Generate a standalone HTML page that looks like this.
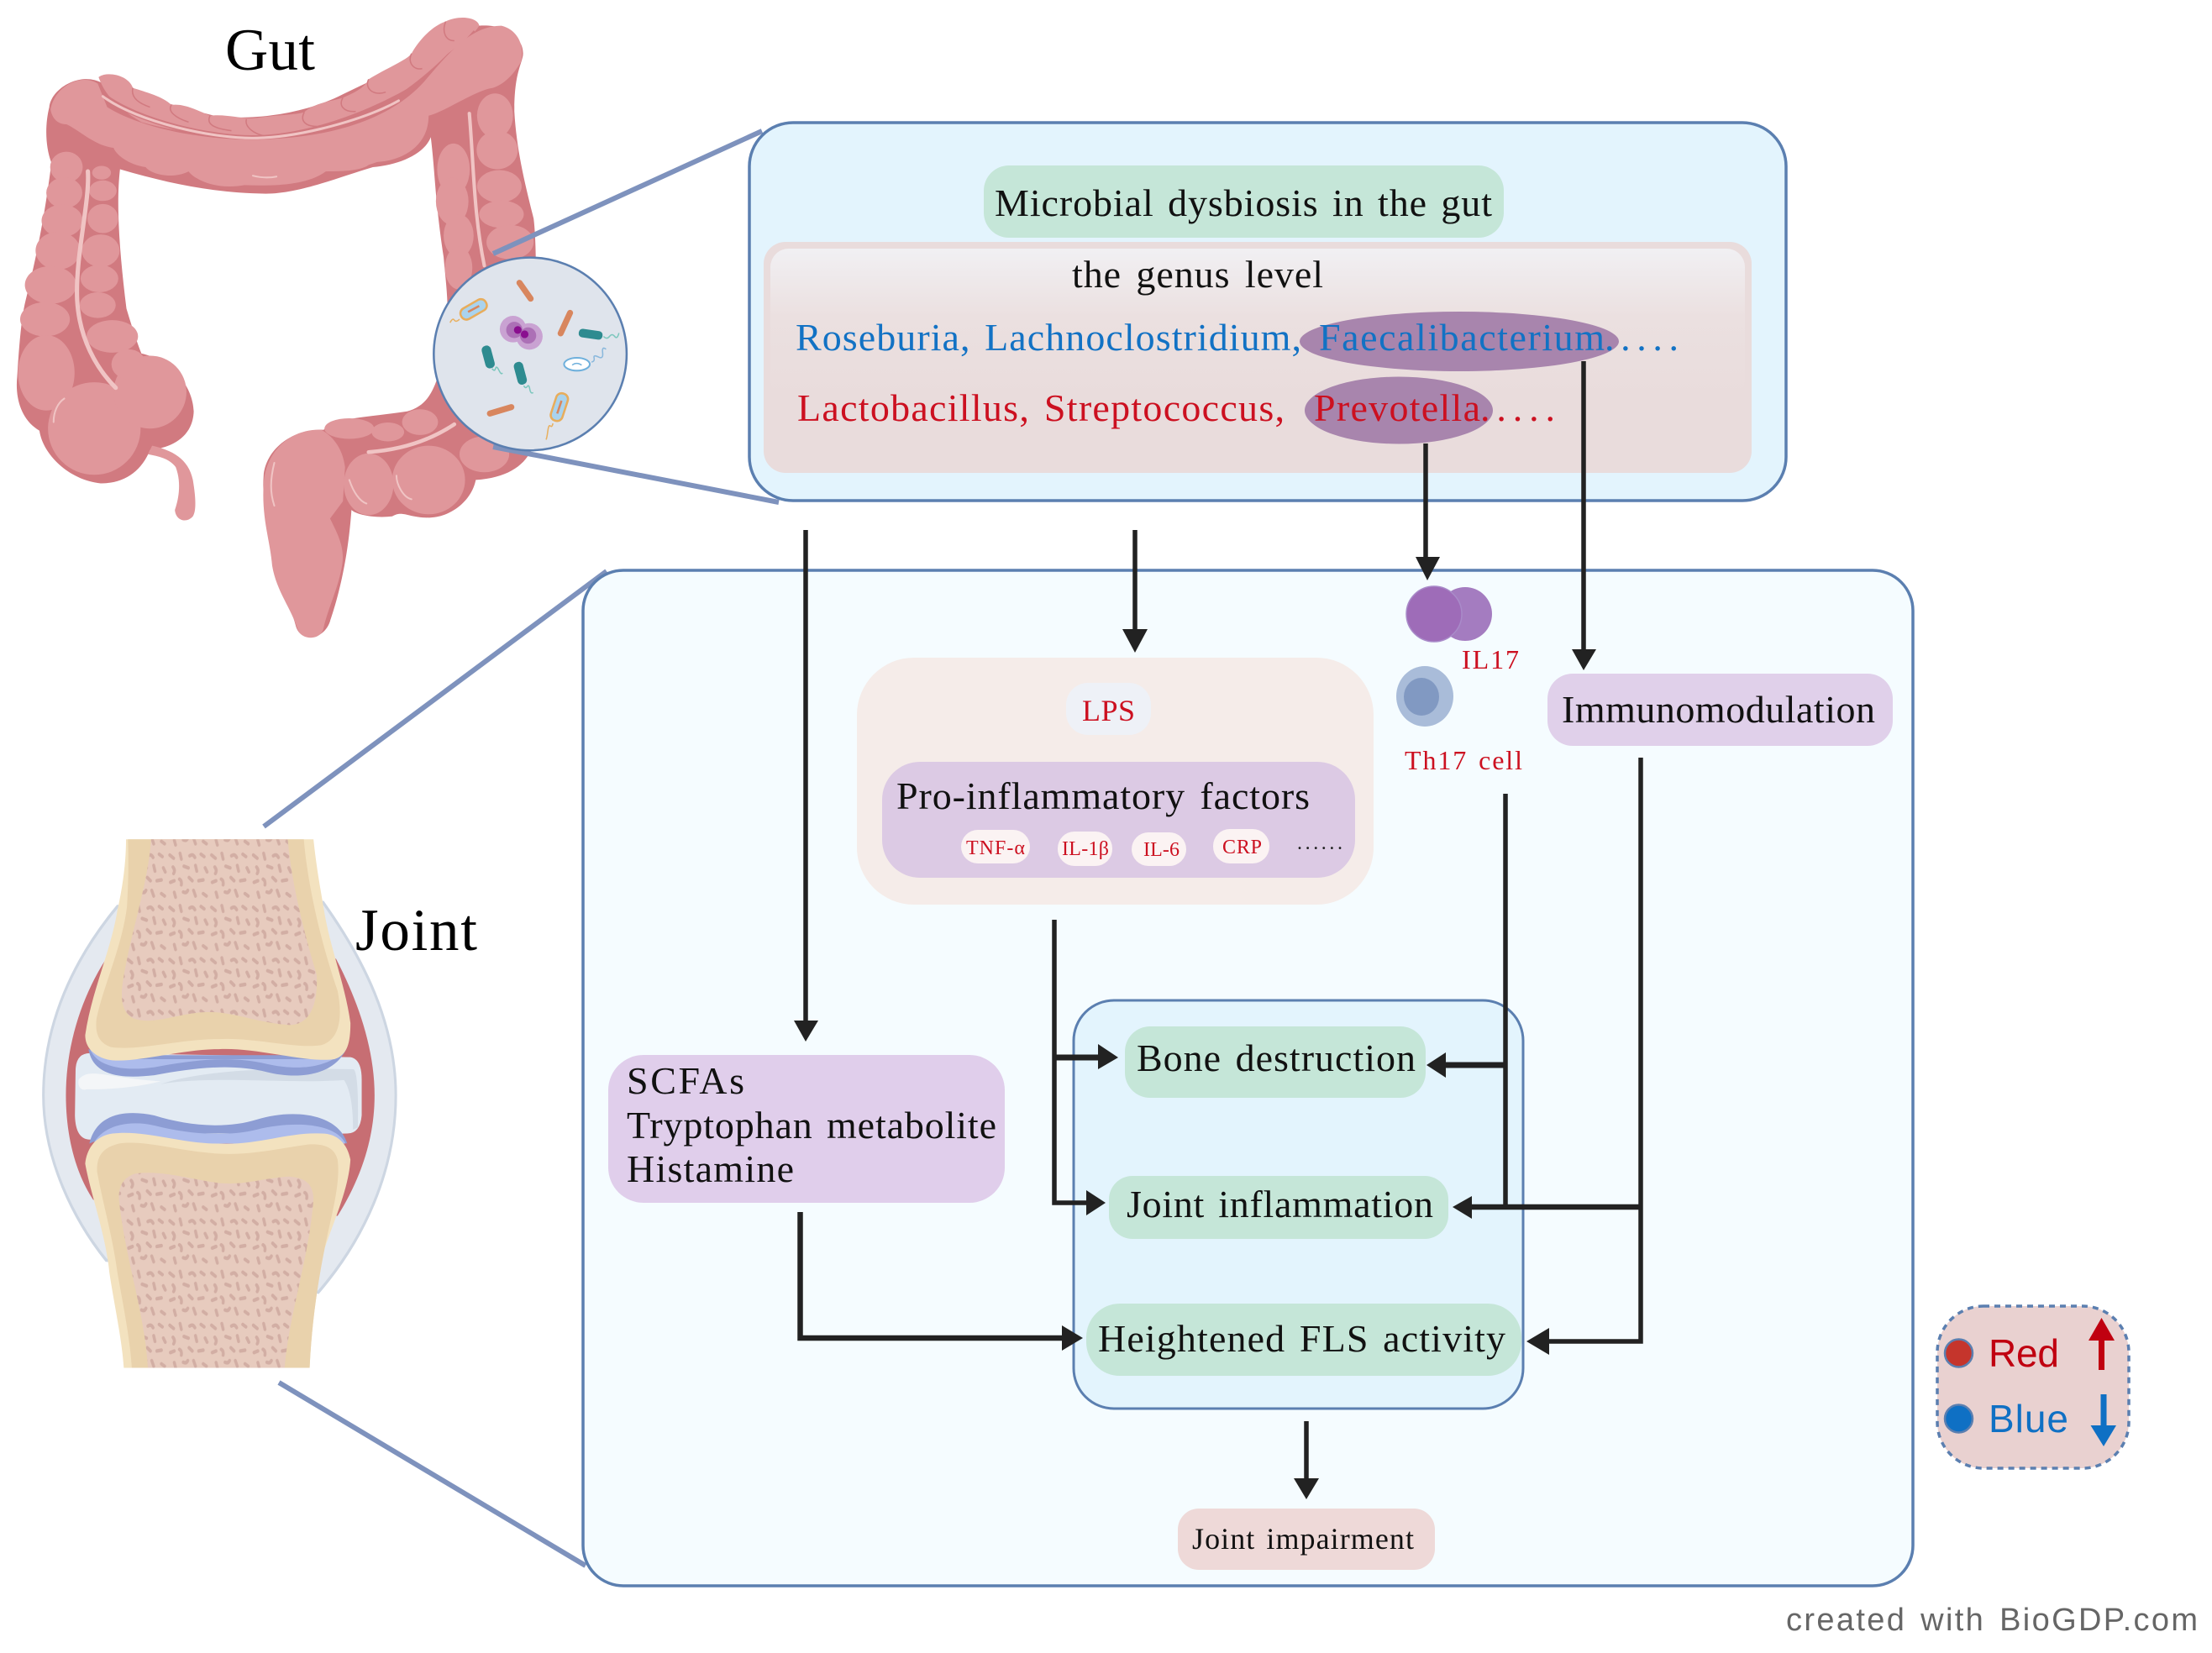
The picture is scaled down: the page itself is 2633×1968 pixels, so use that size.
<!DOCTYPE html>
<html><head><meta charset="utf-8"><style>
html,body{margin:0;padding:0;background:#fff;width:2633px;height:1968px;overflow:hidden}
svg{display:block}
text{font-family:"Liberation Serif",serif}
.b{fill:#111;font-size:46px}
.r{fill:#cc1020}
.sans{font-family:"Liberation Sans",sans-serif}
</style></head><body>
<svg width="2633" height="1968" viewBox="0 0 2633 1968" xmlns="http://www.w3.org/2000/svg">
<defs>
<linearGradient id="gr" x1="0" y1="0" x2="0" y2="1"><stop offset="0" stop-color="#f1f0f3"/><stop offset="0.45" stop-color="#ebe0e0"/><stop offset="1" stop-color="#e9dcdc"/></linearGradient>
<pattern id="sp" patternUnits="userSpaceOnUse" width="130" height="130">
<rect width="130" height="130" fill="#e7cbbe"/>
<g stroke="#d2aea4" stroke-width="9" stroke-linecap="round" fill="none">
<path d="M8 12l12 8M40 8l4 14M70 14q10 -6 16 4M105 10l10 6M18 42q8 8 2 16M52 40l14 4M88 38l4 14M118 44l6 10M10 80l12 -4M38 72q8 4 6 14M68 68l10 8M98 76l14 -2M22 105l4 12M50 104q10 4 14 -4M82 100l6 14M112 108l10 6"/>
</g></pattern>
</defs>
<rect width="2633" height="1968" fill="#fff"/>

<!-- gut -->
<g transform="scale(.5102)">
<path fill="#d17a80" d="M115 250C120 205 190 165 240 195C300 215 400 245 500 270C580 282 700 268 790 225C860 190 950 150 1010 120C1060 75 1110 35 1118 60C1180 55 1225 90 1220 130C1215 155 1200 175 1200 260C1205 350 1225 430 1245 510C1255 590 1250 800 1240 1050C1220 1090 1180 1115 1110 1120C1100 1170 1050 1208 1000 1208C950 1208 940 1190 915 1205C870 1210 830 1200 820 1190C810 1330 780 1420 770 1450C755 1495 700 1500 690 1460C675 1400 635 1350 635 1310C630 1230 610 1180 615 1110C620 1050 680 1000 755 1003C780 975 850 975 950 960C1000 945 1020 910 1040 800C1050 720 1040 660 1035 600C1015 470 1015 400 1005 320C990 360 930 385 870 390C800 410 700 452 620 452C500 450 400 430 280 395C270 480 280 600 295 720C310 770 320 800 330 825C400 840 450 900 452 960C450 1020 400 1045 350 1050C330 1100 290 1128 235 1128C160 1120 100 1060 92 1005C50 980 35 930 40 880C45 800 50 740 60 700C85 600 105 500 120 380C105 340 105 290 115 250Z"/>
<!-- upper transverse strip -->
<path fill="#e0979b" d="M230 180C250 165 300 175 310 205C340 215 380 225 400 245C430 240 470 262 490 270C530 265 570 280 600 275C650 268 690 268 710 262C730 240 780 235 800 228C830 215 850 205 860 185C900 160 950 140 960 125C980 90 1010 60 1040 50C1070 35 1115 40 1118 60C1100 90 1060 110 1040 130C1000 170 950 210 900 240C850 270 800 285 700 310C600 325 450 320 330 285C290 260 250 235 230 180Z"/>
<path fill="none" stroke="#d17a80" stroke-width="3" d="M310 205C305 225 320 240 350 250M400 245C390 260 410 275 440 285M490 270C480 290 500 300 540 305M575 278C570 295 590 312 620 318M710 262C700 280 710 295 740 295M800 228C790 245 800 262 830 260M860 185C850 205 870 225 900 215M960 125C950 145 965 165 985 160M1040 50C1030 75 1040 95 1060 95"/>
<path fill="none" stroke="#d17a80" stroke-width="13" d="M240 222C320 285 500 325 600 322C700 320 850 280 1000 185C1040 150 1080 110 1110 75"/>
<path fill="#e0979b" d="M118 255C128 200 190 170 228 195L250 250C330 300 480 330 620 325C750 320 900 290 990 190C1050 120 1100 60 1170 60C1210 70 1225 110 1215 145C1200 170 1180 195 1150 205C1110 210 1040 260 1000 270C1000 340 940 375 880 378L860 385C840 400 790 400 760 400C720 430 650 435 570 432C500 445 450 415 440 400C400 420 350 405 340 390C300 385 270 360 265 345C220 340 180 300 155 290C130 290 120 270 118 255Z"/>
<g fill="#e0979b">
<ellipse cx="155" cy="390" rx="38" ry="36"/><ellipse cx="150" cy="450" rx="42" ry="36"/><ellipse cx="145" cy="515" rx="48" ry="38"/><ellipse cx="135" cy="585" rx="52" ry="44"/><ellipse cx="118" cy="665" rx="60" ry="44"/><ellipse cx="105" cy="745" rx="58" ry="40"/><ellipse cx="108" cy="870" rx="66" ry="88"/>
<ellipse cx="237" cy="403" rx="22" ry="16"/><ellipse cx="240" cy="445" rx="32" ry="24"/><ellipse cx="240" cy="510" rx="36" ry="34"/><ellipse cx="235" cy="585" rx="44" ry="38"/><ellipse cx="232" cy="650" rx="44" ry="32"/><ellipse cx="228" cy="712" rx="42" ry="30"/><ellipse cx="262" cy="785" rx="60" ry="38"/>
<ellipse cx="220" cy="1000" rx="108" ry="108"/><ellipse cx="350" cy="915" rx="85" ry="85"/><ellipse cx="300" cy="850" rx="40" ry="35"/>
<ellipse cx="1058" cy="395" rx="38" ry="60"/><ellipse cx="1055" cy="470" rx="38" ry="55"/><ellipse cx="1070" cy="550" rx="35" ry="50"/><ellipse cx="1070" cy="625" rx="32" ry="50"/>
<ellipse cx="1155" cy="270" rx="42" ry="52"/><ellipse cx="1160" cy="350" rx="48" ry="45"/><ellipse cx="1165" cy="435" rx="52" ry="38"/><ellipse cx="1170" cy="500" rx="52" ry="32"/><ellipse cx="1190" cy="565" rx="55" ry="40"/>
<ellipse cx="815" cy="1000" rx="58" ry="24"/><ellipse cx="905" cy="1008" rx="38" ry="22"/><ellipse cx="980" cy="985" rx="42" ry="30"/><ellipse cx="860" cy="1130" rx="58" ry="72"/><ellipse cx="1000" cy="1120" rx="85" ry="80"/><ellipse cx="1130" cy="1060" rx="58" ry="42"/>
<path d="M750 1003C680 1000 620 1050 615 1130C610 1210 630 1260 635 1320C645 1380 680 1420 695 1470C705 1495 750 1495 755 1465C765 1420 790 1370 798 1320C805 1280 790 1250 770 1210L800 1170L805 1090C800 1050 780 1020 750 1003Z"/>
<path d="M355 1040C400 1050 440 1070 450 1120C455 1150 460 1190 450 1205C435 1222 410 1215 408 1190C415 1170 425 1130 410 1090C395 1070 370 1065 345 1060Z"/>
</g>
<g fill="none" stroke="#f0c4c4" stroke-linecap="round">
<path stroke-width="10" d="M205 400C210 470 175 600 180 700C185 790 225 860 270 905"/>
<path stroke-width="8" d="M1095 265C1105 380 1105 500 1130 620"/>
<path stroke-width="6" d="M240 225C320 285 500 325 600 322C700 320 850 280 930 235"/>
<path stroke-width="9" d="M860 1055C930 1050 1000 1030 1060 990"/>
<path stroke-width="4" d="M125 985C125 960 135 940 150 930M815 1120C825 1150 840 1170 855 1175M640 1080C630 1120 630 1150 640 1180M925 1110C925 1130 940 1160 960 1165M590 410C610 415 630 415 645 412"/>
</g>
</g>

<!-- connector wedges -->
<g stroke="#7e92bd" stroke-width="6" fill="none">
<path d="M587 302L907 156"/><path d="M587 532L927 598"/>
<path d="M314 984L722 680"/><path d="M332 1646L697 1864"/>
</g>

<!-- magnified circle -->
<g transform="scale(.5102)">
<circle cx="1237" cy="826" r="225" fill="#dfe4ec" stroke="#5b7fb0" stroke-width="5"/>
<g stroke="#d8865e" stroke-width="14" stroke-linecap="round"><path d="M1212 660L1238 697M1330 730L1308 778M1143 965L1193 950"/></g>
<g fill="#c9a2d2"><circle cx="1197" cy="768" r="31"/><circle cx="1235" cy="785" r="31"/></g>
<g fill="#ac70b6"><circle cx="1200" cy="770" r="19"/><circle cx="1232" cy="783" r="19"/></g>
<g fill="#8a0f8f"><circle cx="1208" cy="770" r="9"/><circle cx="1224" cy="780" r="9"/></g>
<g fill="#2e8b90"><rect x="1350" y="770" width="56" height="20" rx="9" transform="rotate(8 1378 780)"/><rect x="1112" y="822" width="54" height="22" rx="10" transform="rotate(75 1139 833)"/><rect x="1187" y="860" width="54" height="22" rx="10" transform="rotate(75 1214 871)"/></g>
<g fill="none" stroke="#7cc7bd" stroke-width="3"><path d="M1408 785q8 8 14 0t12 0t10 -8M1148 860q6 8 8 0t8 4t8 6M1222 900q4 8 8 2t6 6t8 8"/><path stroke="#e8b060" d="M1072 745q-8 8 -12 2t-10 6M1290 988q-2 10 -6 6t-6 12t-4 20"/><path stroke="#8ab8dc" d="M1380 845q8 -2 6 -10t10 -2t10 -10t8 -8"/></g>
<g fill="#a9d3ee" stroke="#e8ad5c" stroke-width="5"><rect x="1072" y="708" width="66" height="28" rx="13" transform="rotate(-30 1105 722)"/><rect x="1272" y="936" width="66" height="28" rx="13" transform="rotate(-72 1305 950)"/></g>
<path stroke="#d8865e" stroke-width="5" d="M1092 728L1118 714M1300 965L1310 935"/>
<ellipse cx="1346" cy="850" rx="30" ry="15" fill="#fff" stroke="#6fb0dc" stroke-width="4"/>
<path d="M1335 852q10 -8 22 0" fill="none" stroke="#6fb0dc" stroke-width="3"/>
</g>

<!-- top panel -->
<rect x="892" y="146" width="1234" height="450" rx="52" fill="#e3f4fd" stroke="#5b7fb0" stroke-width="3.5"/>
<rect x="1171" y="197" width="619" height="86" rx="30" fill="#c5e6d8"/>
<text class="b" x="1184" y="257" textLength="592" word-spacing="4">Microbial dysbiosis in the gut</text>
<rect x="909" y="288" width="1176" height="275" rx="26" fill="#e9dcdc"/>
<rect x="917" y="296" width="1160" height="180" rx="22" fill="url(#gr)"/>
<text class="b" x="1276" y="342" textLength="299" word-spacing="5">the genus level</text>
<ellipse cx="1737" cy="406.5" rx="190" ry="35.5" fill="#a885ad"/>
<ellipse cx="1665" cy="488.5" rx="112" ry="40" fill="#a885ad"/>
<text x="947" y="417" font-size="46" fill="#1272c4" textLength="602" word-spacing="4">Roseburia, Lachnoclostridium,</text>
<text x="1570" y="417" font-size="46" fill="#1272c4" textLength="340">Faecalibacterium</text>
<text x="1910" y="417" font-size="46" fill="#1272c4" textLength="88">.....</text>
<text class="r" x="949" y="501" font-size="46" textLength="580" word-spacing="4">Lactobacillus, Streptococcus,</text>
<text class="r" x="1564" y="501" font-size="46" textLength="198">Prevotella</text>
<text class="r" x="1762" y="501" font-size="46" textLength="89">.....</text>

<!-- big panel -->
<rect x="694" y="679" width="1583" height="1209" rx="48" fill="#f5fcff" stroke="#5b7fb0" stroke-width="3.5"/>

<!-- inner outcome box -->
<rect x="1278" y="1191" width="535" height="486" rx="48" fill="#e3f4fd" stroke="#5b7fb0" stroke-width="3"/>
<rect x="1339" y="1222" width="358" height="85" rx="30" fill="#c5e6d8"/>
<text class="b" x="1353" y="1275" textLength="332" word-spacing="4">Bone destruction</text>
<rect x="1320" y="1400" width="404" height="75" rx="28" fill="#c5e6d8"/>
<text class="b" x="1341" y="1449" textLength="365" word-spacing="4">Joint inflammation</text>
<rect x="1293" y="1552" width="518" height="86" rx="40" fill="#c5e6d8"/>
<text class="b" x="1307" y="1609" textLength="485" word-spacing="4">Heightened FLS activity</text>

<!-- LPS group -->
<rect x="1020" y="783" width="615" height="294" rx="68" fill="#f5ece9"/>
<rect x="1269" y="813" width="101" height="62" rx="26" fill="#eef1f7"/>
<text class="r" x="1288" y="858" font-size="36" textLength="63">LPS</text>
<rect x="1050" y="907" width="563" height="138" rx="45" fill="#dccae4"/>
<text class="b" x="1067" y="963" textLength="492" word-spacing="5">Pro-inflammatory factors</text>
<g fill="#fbf3f3"><rect x="1144" y="988" width="82" height="40" rx="20"/><rect x="1259" y="990" width="65" height="41" rx="20"/><rect x="1347" y="991" width="65" height="40" rx="20"/><rect x="1444" y="987" width="67" height="41" rx="20"/></g>
<g class="r" font-size="24">
<text class="r" x="1150" y="1017" textLength="70">TNF-α</text>
<text class="r" x="1264" y="1018" textLength="56">IL-1β</text>
<text class="r" x="1361" y="1019" textLength="43">IL-6</text>
<text class="r" x="1455" y="1016" textLength="47">CRP</text>
</g>
<text x="1544" y="1011" font-size="24" fill="#222" textLength="54">......</text>

<!-- IL17 / Th17 -->
<circle cx="1744" cy="731" r="32" fill="#a47cc0"/>
<circle cx="1707" cy="731" r="33" fill="#9e6cb8" stroke="#a98bc9" stroke-width="1.5"/>
<text class="r" x="1740" y="796" font-size="32" textLength="68">IL17</text>
<ellipse cx="1696" cy="829" rx="34" ry="36" fill="#a9bcd9"/>
<ellipse cx="1692" cy="829.5" rx="21" ry="22.5" fill="#8199c2"/>
<text class="r" x="1672" y="916" font-size="32" textLength="140" word-spacing="3">Th17 cell</text>

<rect x="1842" y="802" width="411" height="86" rx="30" fill="#e0d0ea"/>
<text class="b" x="1859" y="860" textLength="373">Immunomodulation</text>

<rect x="724" y="1256" width="472" height="176" rx="42" fill="#e0ceeb"/>
<text class="b" x="746" y="1302" textLength="140">SCFAs</text>
<text class="b" x="746" y="1355" textLength="440" word-spacing="4">Tryptophan metabolite</text>
<text class="b" x="746" y="1407" textLength="199">Histamine</text>

<rect x="1402" y="1796" width="306" height="73" rx="25" fill="#eed9d8"/>
<text x="1419" y="1844" font-size="36" fill="#111" textLength="264" word-spacing="3">Joint impairment</text>

<!-- arrows -->
<g stroke="#222" stroke-width="5.5" fill="none">
<path d="M959 631V1220"/><path d="M1351 631V752"/><path d="M1697 528V668"/><path d="M1885 430V777"/>
<path d="M1255 1095V1432H1296"/><path d="M1255 1259H1310" stroke-width="7"/>
<path d="M1792 945V1437"/><path d="M1953 902V1597H1840" /><path d="M1953 1437H1750" stroke-width="6.5"/><path d="M1792 1268H1720" stroke-width="7"/>
<path d="M952.5 1443V1593H1268" stroke-width="6.5"/><path d="M1555 1692V1765"/>
</g>
<g fill="#222">
<path d="M945 1215H974L959 1240Z"/><path d="M1336 749H1366L1351 777Z"/><path d="M1685 663H1714L1699 691Z"/><path d="M1871 773H1900L1885 798Z"/>
<path d="M1293 1417V1447L1316 1432Z"/><path d="M1307 1243V1273L1331 1259Z"/>
<path d="M1721 1253V1283L1698 1268Z"/><path d="M1752 1424V1451L1729 1437Z"/><path d="M1844 1581V1613L1817 1597Z"/>
<path d="M1264 1578V1608L1289 1593Z"/><path d="M1540 1760H1570L1555 1785Z"/>
</g>

<!-- joint -->
<g transform="translate(0,950) scale(.3827,.4785)">
<path fill="#e4e9f0" stroke="#cdd6e2" stroke-width="8" d="M365 270C230 400 135 560 135 740C135 900 230 1050 330 1150L990 1230C1130 1100 1231 930 1231 740C1231 560 1130 400 1005 260Z"/>
<path fill="#c76e73" d="M330 400C250 500 205 620 205 740C205 850 240 940 290 1000L1050 1040C1120 950 1165 850 1165 740C1165 620 1110 500 1045 400Z"/>
<path fill="#e3ebf3" d="M235 680Q235 635 280 635L1090 645Q1125 650 1125 700L1125 790Q1120 835 1080 835L280 850Q235 850 233 790Z"/>
<path fill="#d3dce6" d="M500 712C650 672 900 672 1100 675Q1116 685 1113 820L1098 825Q1098 735 1070 702C900 712 650 690 500 712Z"/>
<path fill="#f4f6f8" d="M245 700C280 670 320 695 500 705C400 725 300 725 270 725C250 730 240 715 245 700Z"/>
<path fill="#8d9dd4" d="M275 625C290 690 370 700 480 690C600 672 720 660 830 682C920 700 1040 695 1080 620L1060 640L330 640Z"/>
<path fill="#adbcec" d="M280 625C300 665 370 682 480 670C600 652 720 640 830 662C920 678 1020 675 1075 625L1040 650L330 650Z"/>
<path fill="#f3e2bf" d="M392 103L975 103C985 180 1000 240 1010 290C1030 380 1075 470 1090 560C1090 610 1080 640 1040 650C950 660 800 620 680 625C560 625 400 665 330 650C290 640 265 620 265 590C285 480 345 380 365 280C385 210 392 150 392 103Z"/>
<path fill="#e9d2ac" d="M398 103L945 103C955 200 990 340 1050 480C1065 540 1060 600 1000 615C920 625 790 595 680 600C560 600 430 630 345 620C310 610 295 590 300 550C320 470 380 370 395 270C400 200 400 150 398 103Z"/>
<path fill="url(#sp)" d="M470 103L895 103C905 200 940 320 985 440C990 520 960 565 900 565C800 560 720 530 640 533C560 535 480 565 420 550C385 540 375 510 380 470C400 350 460 220 470 103Z"/>
<path fill="#8d9dd4" d="M278 860C300 785 390 775 480 790C580 815 700 825 800 800C900 775 1050 780 1080 860L1000 835L350 835Z"/>
<path fill="#adbcec" d="M285 870C310 815 400 800 480 815C580 835 700 845 800 825C900 805 1040 805 1075 860L1000 860L350 860Z"/>
<path fill="#f3e2bf" d="M385 1418L963 1418C970 1300 990 1200 1010 1120C1040 1050 1085 970 1090 900C1080 860 1050 835 1000 835C900 830 800 865 680 860C560 860 450 825 350 835C300 840 270 870 265 910C280 980 330 1090 340 1180C355 1260 380 1350 385 1418Z"/>
<path fill="#e9d2ac" d="M410 1418L963 1418C970 1300 990 1200 1010 1120C1030 1040 1060 960 1050 900C1040 870 1010 860 960 862C880 870 780 890 680 885C560 880 450 850 370 860C320 870 300 890 302 930C320 1010 350 1090 365 1180C385 1270 405 1350 410 1418Z"/>
<path fill="url(#sp)" d="M460 1418L885 1418C900 1280 960 1150 975 1000C975 960 950 945 900 942C820 945 760 965 680 958C600 950 500 925 420 935C380 945 368 970 370 1000C390 1150 450 1280 460 1418Z"/>
</g>

<!-- labels -->
<text x="268" y="83" font-size="71" fill="#000" textLength="107">Gut</text>
<text x="423" y="1131" font-size="71" fill="#000" textLength="145">Joint</text>

<!-- legend -->
<rect x="2306" y="1555" width="228" height="193" rx="55" fill="#e9d1d0" stroke="#5b7fb0" stroke-width="3.5" stroke-dasharray="7 6"/>
<circle cx="2331.5" cy="1611" r="16.5" fill="#c5352c" stroke="#5b7fb0" stroke-width="2.5"/>
<circle cx="2331.5" cy="1689" r="16.5" fill="#0f70c4" stroke="#5b7fb0" stroke-width="2.5"/>
<text class="sans" x="2367" y="1627" font-size="46" fill="#c00010" textLength="84">Red</text>
<text class="sans" x="2367" y="1705" font-size="46" fill="#0f70c4" textLength="95">Blue</text>
<path d="M2501.5 1569L2517 1596H2505V1631H2498V1596H2486Z" fill="#c00010"/>
<path d="M2504 1722L2519 1697H2507.5V1660H2500.5V1697H2488.5Z" fill="#0f70c4"/>

<text class="sans" x="2126" y="1941" font-size="38" fill="#666" textLength="490" word-spacing="4">created with BioGDP.com</text>
</svg>
</body></html>
